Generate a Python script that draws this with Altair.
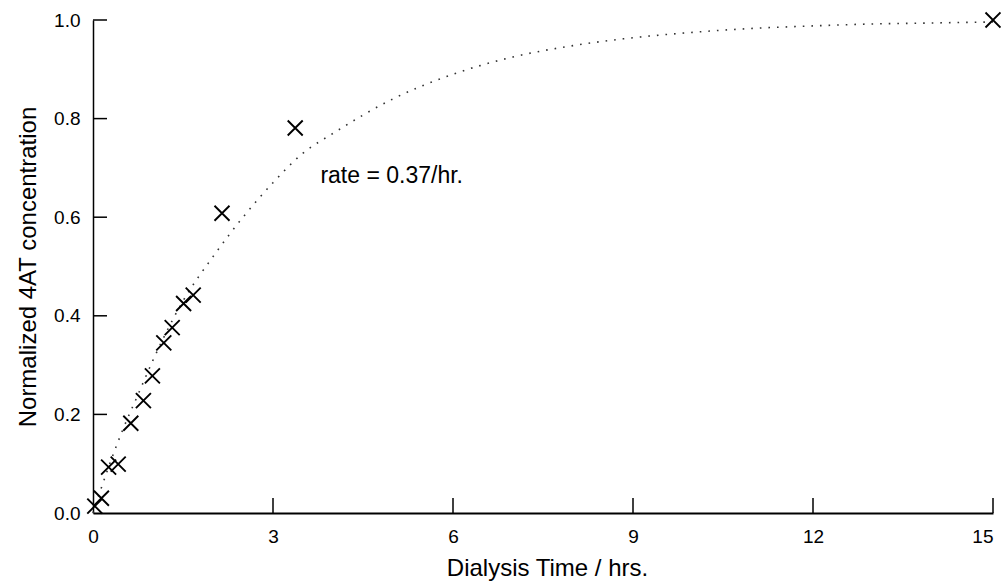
import altair as alt
import pandas as pd

# Measured data points (Dialysis time in hrs, normalized concentration)
time_hrs = [0.03, 0.14, 0.26, 0.42, 0.63, 0.84, 0.99, 1.18, 1.32, 1.51, 1.67, 2.15, 3.37, 15.0]
conc = [0.014, 0.03, 0.093, 0.099, 0.182, 0.228, 0.278, 0.345, 0.376, 0.425, 0.442, 0.608, 0.781, 1.0]

# Fitted curve
fit_t = [0, 0.25, 0.5, 0.75, 1, 1.5, 2, 2.5, 3, 3.5, 4, 5, 6, 7, 8, 9, 10, 11, 12, 13, 14, 15]
fit_y = [0, 0.09, 0.17, 0.24, 0.31, 0.43, 0.52, 0.60, 0.67, 0.73, 0.77, 0.84, 0.89, 0.925,
         0.948, 0.964, 0.975, 0.983, 0.988, 0.992, 0.994, 0.996]

x_ticks = [0, 3, 6, 9, 12, 15]
y_ticks = [0.0, 0.2, 0.4, 0.6, 0.8, 1.0]
x_inner_ticks = [3, 6, 9, 12, 15]
y_inner_ticks = [0.2, 0.4, 0.6, 0.8, 1.0]

note_t = [3.79]
note_y = [0.670]
note_text = ["rate = 0.37/hr."]

FONT = "Liberation Sans"
W, H = 900, 493

pts = pd.DataFrame({"t": time_hrs, "c": conc})
fit = pd.DataFrame({"t": fit_t, "c": fit_y})
xt = pd.DataFrame({"t": x_inner_ticks})
yt = pd.DataFrame({"c": y_inner_ticks})
note = pd.DataFrame({"t": note_t, "c": note_y, "label": note_text})

xscale = alt.Scale(domain=[0, 15], nice=False, zero=False)
yscale = alt.Scale(domain=[0, 1.0], nice=False, zero=False)

xaxis = alt.Axis(
    values=x_ticks, format="d", grid=False, ticks=False, labelFlush=False,
    labelOverlap=False,
    labelAlign={"expr": "datum.value >= 15 ? 'right' : 'center'"},
    domainColor="black", domainWidth=2,
    labelFont=FONT, labelFontSize=19, labelColor="black", labelPadding=14,
    title="Dialysis Time / hrs.", titleFont=FONT, titleFontSize=24,
    titleFontWeight="normal", titleColor="black",
    titleX=454, titleY=62, titleBaseline="alphabetic", titleAlign="center",
)
yaxis = alt.Axis(
    values=y_ticks, format=".1f", grid=False, ticks=False, labelFlush=False,
    labelOverlap=False,
    domainColor="black", domainWidth=1.5,
    labelFont=FONT, labelFontSize=19, labelColor="black", labelPadding=13,
    labelBaseline="middle",
    title="Normalized 4AT concentration", titleFont=FONT, titleFontSize=24,
    titleFontWeight="normal", titleColor="black",
    titleX=-65, titleY=246.5, titleAngle=270, titleAlign="center",
    titleBaseline="middle",
)

curve = alt.Chart(fit).mark_line(
    interpolate="monotone", color="#333333", strokeWidth=1.6,
    strokeDash=[1.6, 7], strokeCap="butt",
).encode(
    x=alt.X("t:Q", scale=xscale, axis=xaxis),
    y=alt.Y("c:Q", scale=yscale, axis=yaxis),
)

markers = alt.Chart(pts).mark_point(
    shape="M-1,-1L1,1M-1,1L1,-1", size=225, filled=False,
    color="black", strokeWidth=1.9, opacity=1,
).encode(
    x=alt.X("t:Q", scale=xscale),
    y=alt.Y("c:Q", scale=yscale),
)

xtick_marks = alt.Chart(xt).mark_rule(color="black", strokeWidth=1.5).encode(
    x=alt.X("t:Q", scale=xscale),
    y=alt.value(H),
    y2=alt.value(H - 15),
)

ytick_marks = alt.Chart(yt).mark_rule(color="black", strokeWidth=1.5).encode(
    y=alt.Y("c:Q", scale=yscale),
    x=alt.value(0),
    x2=alt.value(14),
)

text = alt.Chart(note).mark_text(
    align="left", baseline="alphabetic", font=FONT, fontSize=23, color="black",
).encode(
    x=alt.X("t:Q", scale=xscale),
    y=alt.Y("c:Q", scale=yscale),
    text="label:N",
)

chart = alt.layer(curve, xtick_marks, ytick_marks, markers, text).properties(
    width=W, height=H,
    autosize=alt.AutoSizeParams(type="none"),
    padding={"left": 93, "top": 20, "right": 8, "bottom": 68},
    background="white",
).configure_view(stroke=None)

chart.save("out.html", embed_options={"renderer": "svg", "actions": False})
